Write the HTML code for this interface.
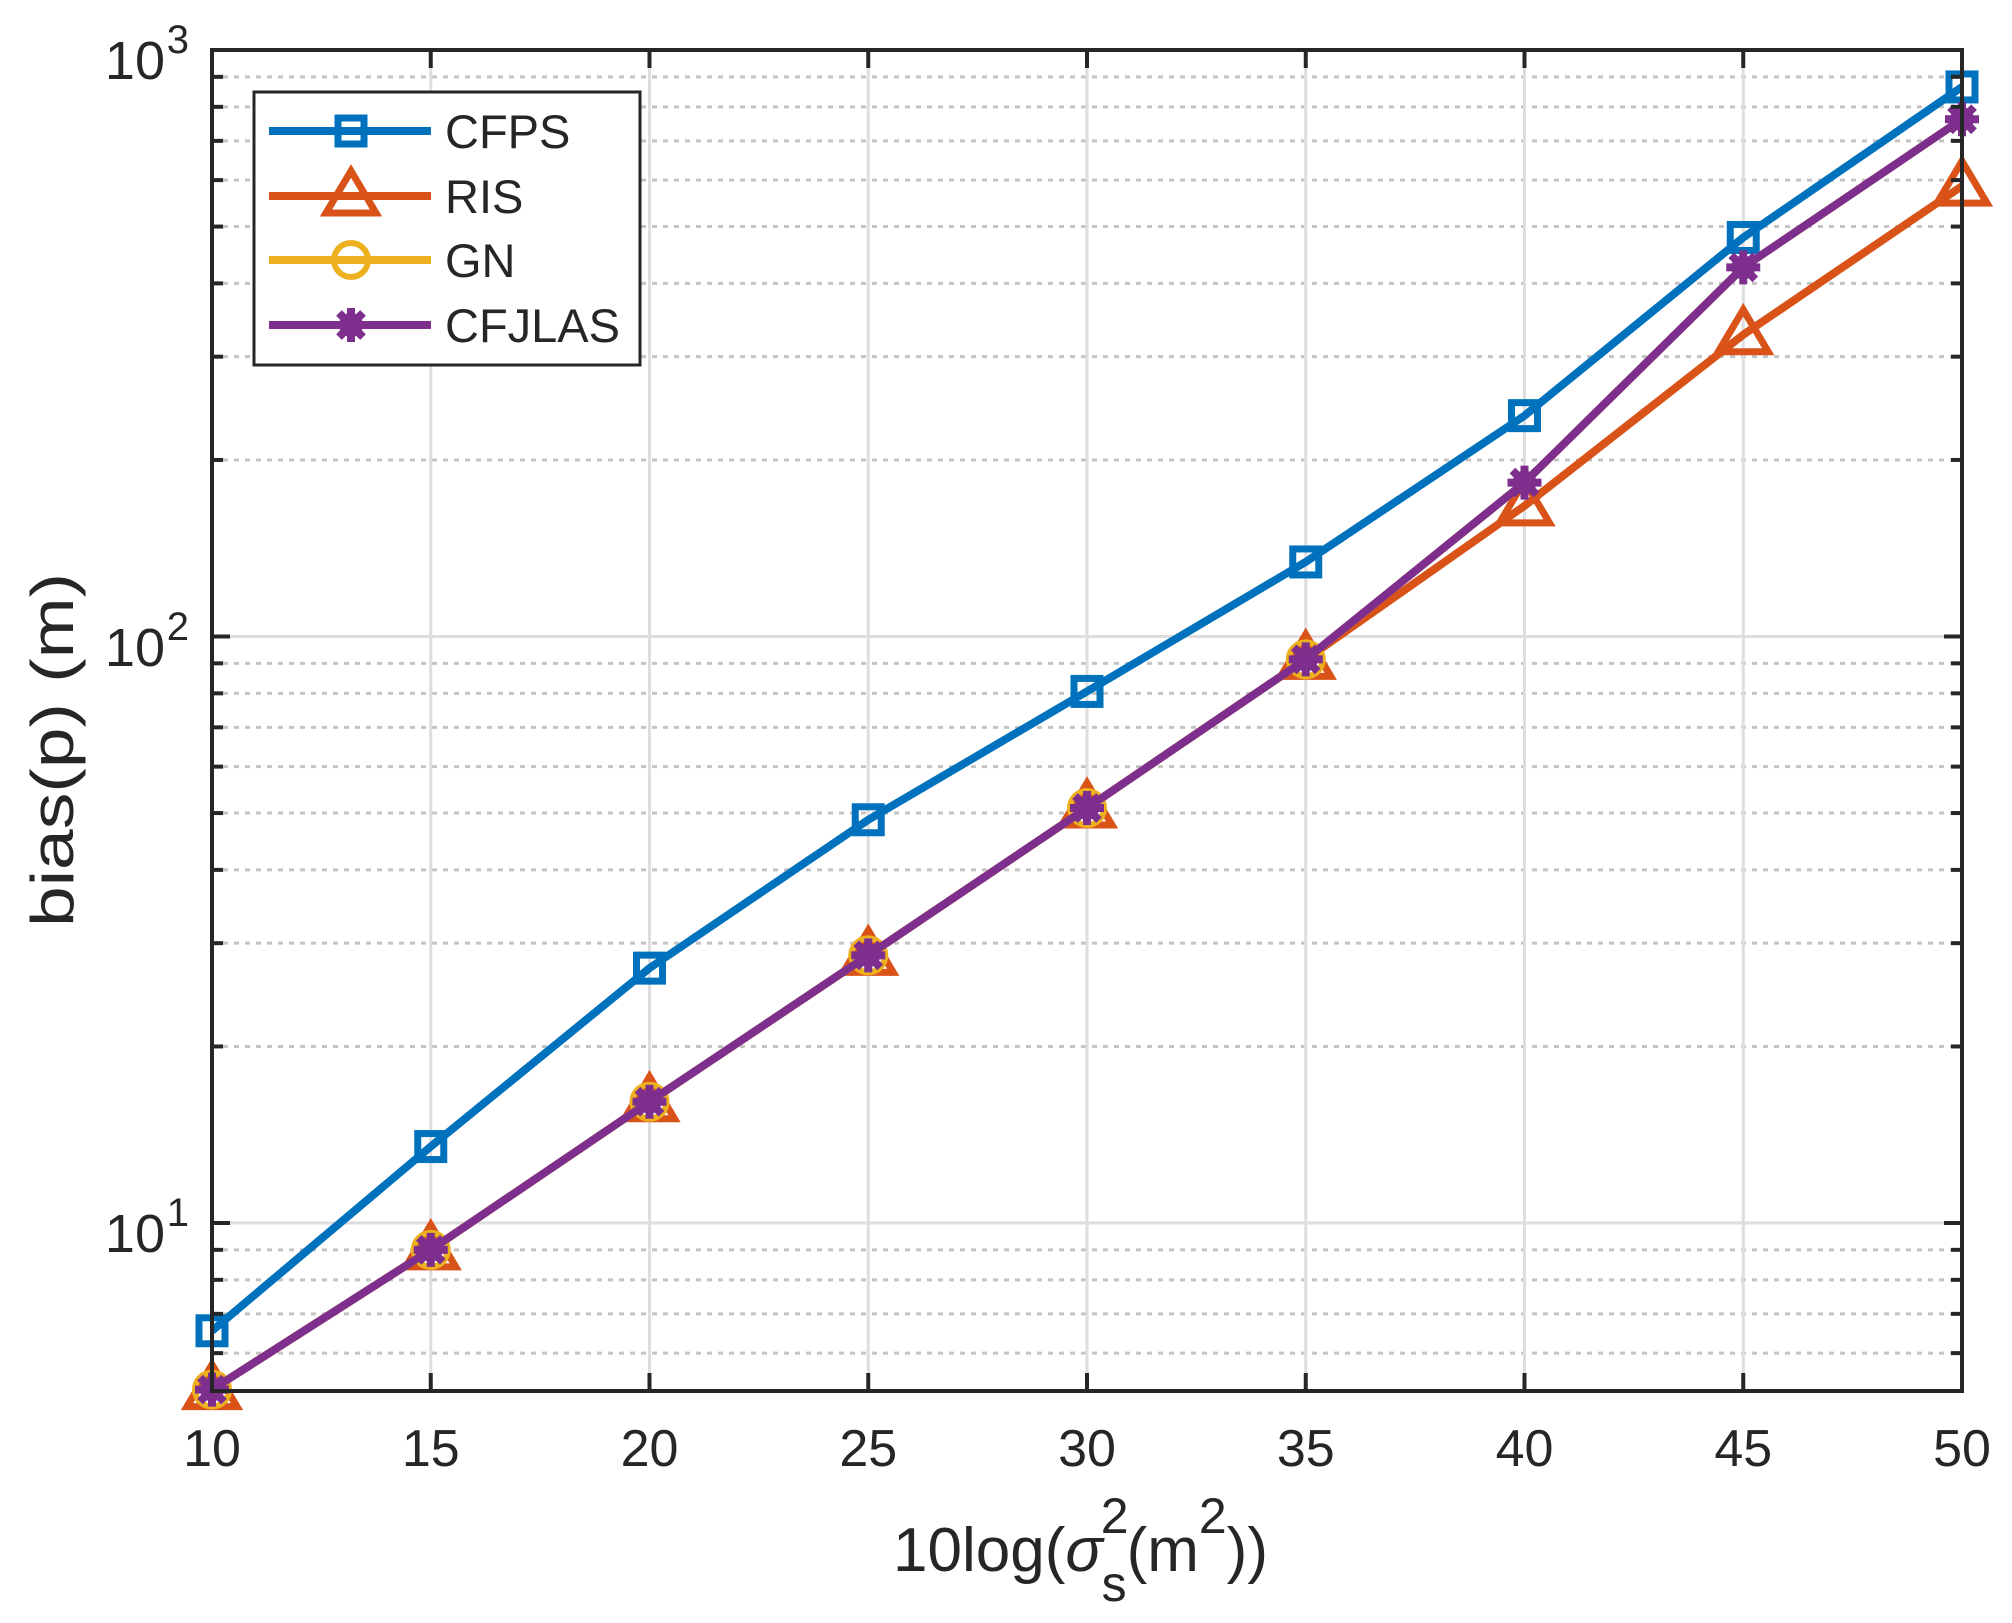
<!DOCTYPE html>
<html><head><meta charset="utf-8"><style>
html,body{margin:0;padding:0;background:#fff;}
svg{display:block;}
text{font-family:"Liberation Sans",Arial,sans-serif;fill:#262626;}
</style></head><body>
<svg id="s" width="2012" height="1623" viewBox="0 0 2012 1623" xmlns="http://www.w3.org/2000/svg">
<rect width="2012" height="1623" fill="#fff"/>
<g id="grid"></g>
<g id="series"></g>
<g id="axes"></g>
<g font-size="52" text-anchor="middle">
<text x="212" y="1466">10</text>
<text x="430.75" y="1466">15</text>
<text x="649.5" y="1466">20</text>
<text x="868.25" y="1466">25</text>
<text x="1087" y="1466">30</text>
<text x="1305.75" y="1466">35</text>
<text x="1524.5" y="1466">40</text>
<text x="1743.25" y="1466">45</text>
<text x="1962" y="1466">50</text>
</g>
<g font-size="54" text-anchor="end">
<text x="165" y="79">10</text><text x="189" y="53" font-size="40">3</text>
<text x="165" y="666">10</text><text x="189" y="640" font-size="40">2</text>
<text x="165" y="1252">10</text><text x="189" y="1226" font-size="40">1</text>
</g>
<text x="0" y="0" font-size="60" transform="translate(73,750) rotate(-90)" text-anchor="middle" textLength="354" lengthAdjust="spacingAndGlyphs">bias(p) (m)</text>
<text x="893" y="1571" font-size="62">10log(<tspan font-style="italic">σ</tspan><tspan font-size="50" dy="-38" dx="-2">2</tspan><tspan font-size="50" dx="-27" dy="68">s</tspan><tspan dy="-30">(m</tspan><tspan font-size="50" dy="-38">2</tspan><tspan dy="38">))</tspan></text>
<rect x="254" y="92" width="386" height="273" fill="#fff" stroke="#262626" stroke-width="3"/>
<g id="leg"></g>
<g font-size="47">
<text x="445" y="148">CFPS</text>
<text x="445" y="213">RIS</text>
<text x="445" y="277">GN</text>
<text x="445" y="342">CFJLAS</text>
</g>
</svg>
<script>
const NS="http://www.w3.org/2000/svg";
function X(v){return 212+(v-10)/40*1750;}
function Y(v){return 1223-(Math.log10(v)-1)*586.5;}
function el(p,t,a){const e=document.createElementNS(NS,t);for(const k in a)e.setAttribute(k,a[k]);p.appendChild(e);return e;}
const grid=document.getElementById('grid'),axes=document.getElementById('axes'),ser=document.getElementById('series'),leg=document.getElementById('leg');
const L=212,R=1962,T=50,B=1391;
let minors=[6,7,8,9,20,30,40,50,60,70,80,90,200,300,400,500,600,700,800,900];
minors.forEach(v=>{const y=Y(v);el(grid,'line',{x1:L,x2:R,y1:y,y2:y,stroke:'#c4c4c4','stroke-width':3,'stroke-dasharray':'5 6'});
 el(axes,'line',{x1:L,x2:L+11,y1:y,y2:y,stroke:'#262626','stroke-width':4});
 el(axes,'line',{x1:R,x2:R-11,y1:y,y2:y,stroke:'#262626','stroke-width':4});});
[10,100].forEach(v=>{const y=Y(v);el(grid,'line',{x1:L,x2:R,y1:y,y2:y,stroke:'#dedede','stroke-width':3});});
[10,100,1000].forEach(v=>{const y=Y(v);el(axes,'line',{x1:L,x2:L+18,y1:y,y2:y,stroke:'#262626','stroke-width':4});el(axes,'line',{x1:R,x2:R-18,y1:y,y2:y,stroke:'#262626','stroke-width':4});});
for(let v=15;v<50;v+=5){const x=X(v);el(grid,'line',{x1:x,x2:x,y1:T,y2:B,stroke:'#dedede','stroke-width':3});
 el(axes,'line',{x1:x,x2:x,y1:T,y2:T+18,stroke:'#262626','stroke-width':4});el(axes,'line',{x1:x,x2:x,y1:B,y2:B-18,stroke:'#262626','stroke-width':4});}
el(axes,'rect',{x:L,y:T,width:R-L,height:B-T,fill:'none',stroke:'#262626','stroke-width':4});
const xs=[10,15,20,25,30,35,40,45,50];
const cfps=[6.55,13.5,27.2,48.7,80.6,134,238,479,865];
const ris=[5.2,9.0,16.1,28.6,51,91.4,167,327,586];
const cfj=[5.2,9.0,16.1,28.6,51,91.4,183,426,762];
function sq(g,x,y,c){el(g,'rect',{x:x-13,y:y-13,width:26,height:26,fill:'none',stroke:c,'stroke-width':7});}
function tri(g,x,y,c){el(g,'polygon',{points:`${x},${y-25} ${x+25},${y+17} ${x-25},${y+17}`,fill:'none',stroke:c,'stroke-width':7,'stroke-linejoin':'miter'});}
function cir(g,x,y,c){el(g,'circle',{cx:x,cy:y,r:17,fill:'none',stroke:c,'stroke-width':6});}
function star(g,x,y,c){for(let a=0;a<180;a+=45){const r=a*Math.PI/180,dx=17*Math.cos(r),dy=17*Math.sin(r);el(g,'line',{x1:x-dx,y1:y-dy,x2:x+dx,y2:y+dy,stroke:c,'stroke-width':8});}el(g,'circle',{cx:x,cy:y,r:12,fill:c});}
function series(d,c,m,n){const pts=xs.map((v,i)=>X(v)+','+Y(d[i])).join(' ');el(ser,'polyline',{points:pts,fill:'none',stroke:c,'stroke-width':8,'stroke-linejoin':'round'});xs.forEach((v,i)=>{if(n===undefined||i<n)m(ser,X(v),Y(d[i]),c);});}
series(cfps,'#0072BD',sq);series(ris,'#D95319',tri);series(cfj,'#EDB120',cir,6);series(cfj,'#7E2F8E',star);
const ly=[131,196,260,325],cols=['#0072BD','#D95319','#EDB120','#7E2F8E'],ms=[sq,tri,cir,star];
ly.forEach((y,i)=>{el(leg,'line',{x1:269,x2:431,y1:y,y2:y,stroke:cols[i],'stroke-width':8});ms[i](leg,351,y,cols[i]);});
</script>
</body></html>
